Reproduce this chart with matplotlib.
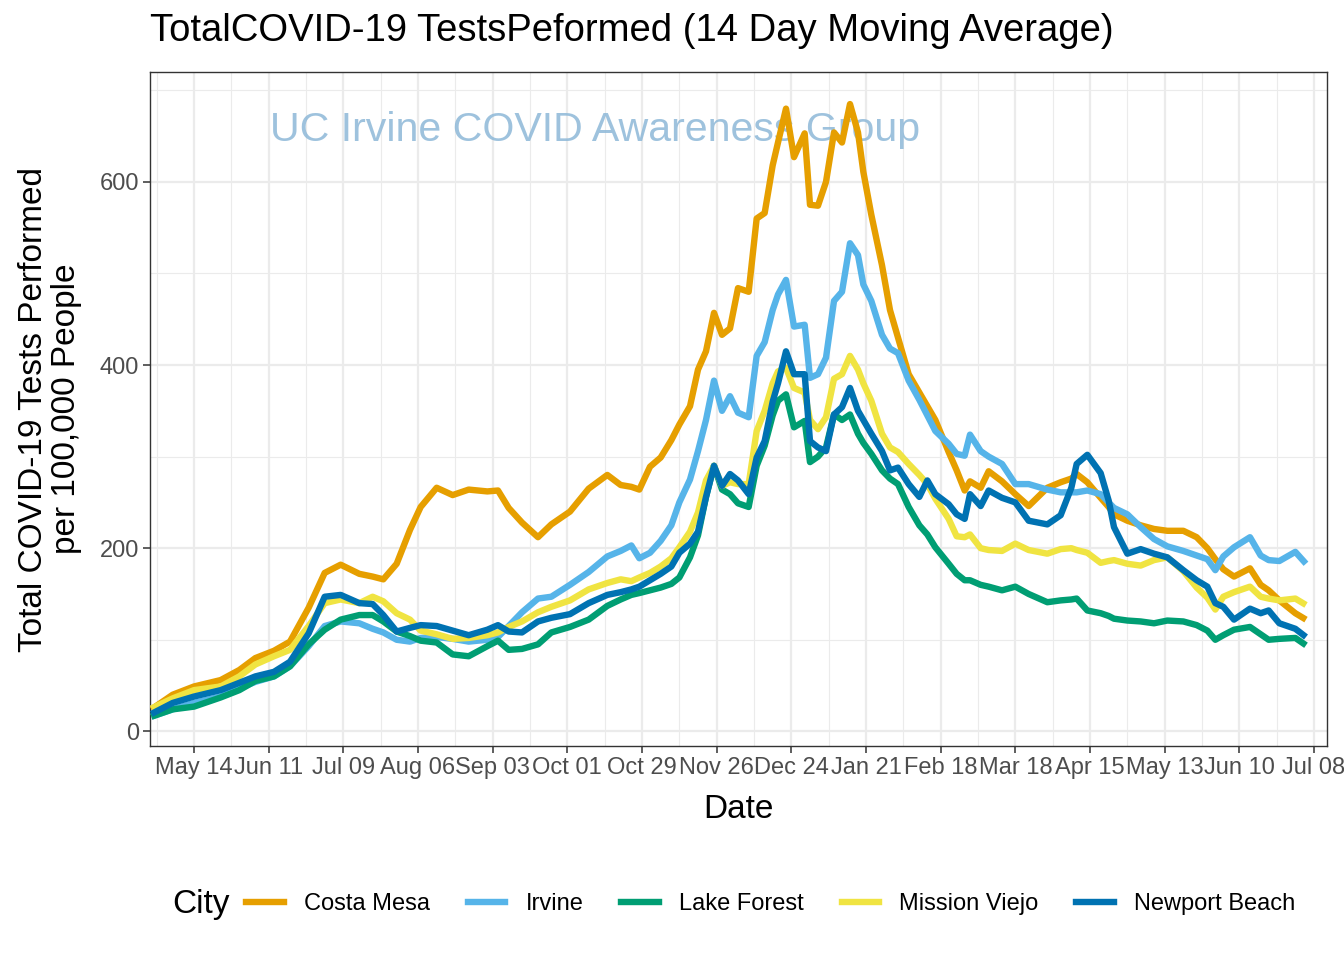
import pandas as pd
import matplotlib.pyplot as plt
import matplotlib.dates as mdates
from matplotlib.lines import Line2D

plt.rcParams["font.family"] = ["Liberation Sans", "DejaVu Sans"]

# Dates (14 day moving average values)
dates = pd.to_datetime([
    "2020-04-28", "2020-05-06", "2020-05-14", "2020-05-24", "2020-05-31",
    "2020-06-06", "2020-06-13", "2020-06-19", "2020-06-26", "2020-07-02",
    "2020-07-08", "2020-07-15", "2020-07-20", "2020-07-24", "2020-07-29",
    "2020-08-03", "2020-08-07", "2020-08-13", "2020-08-19", "2020-08-25",
    "2020-09-01", "2020-09-05", "2020-09-09", "2020-09-14", "2020-09-20",
    "2020-09-25", "2020-10-02", "2020-10-09", "2020-10-16", "2020-10-21",
    "2020-10-25", "2020-10-28", "2020-11-01", "2020-11-05", "2020-11-09",
    "2020-11-12", "2020-11-16", "2020-11-19", "2020-11-22", "2020-11-25",
    "2020-11-28", "2020-12-01", "2020-12-04", "2020-12-08", "2020-12-11",
    "2020-12-14", "2020-12-17", "2020-12-19", "2020-12-22", "2020-12-25",
    "2020-12-29", "2020-12-31", "2021-01-03", "2021-01-06", "2021-01-09",
    "2021-01-12", "2021-01-15", "2021-01-18", "2021-01-20", "2021-01-23",
    "2021-01-27", "2021-01-30", "2021-02-02", "2021-02-06", "2021-02-10",
    "2021-02-13", "2021-02-16", "2021-02-21", "2021-02-24", "2021-02-27",
    "2021-03-01", "2021-03-05", "2021-03-08", "2021-03-13", "2021-03-18",
    "2021-03-23", "2021-03-30", "2021-04-04", "2021-04-08", "2021-04-10",
    "2021-04-14", "2021-04-19", "2021-04-22", "2021-04-24", "2021-04-29",
    "2021-05-04", "2021-05-09", "2021-05-14", "2021-05-20", "2021-05-25",
    "2021-05-29", "2021-06-01", "2021-06-04", "2021-06-08", "2021-06-14",
    "2021-06-18", "2021-06-21", "2021-06-25", "2021-07-01", "2021-07-05",
])

costa_mesa = [
    24, 40, 49, 56, 67, 80, 88, 98, 135, 173,
    182, 172, 169, 166, 183, 220, 245, 266, 258, 264,
    262, 263, 244, 228, 212, 226, 240, 265, 280, 269,
    267, 264, 289, 299, 318, 335, 355, 395, 415, 457,
    433, 440, 484, 480, 560, 566, 618, 643, 680, 627,
    653, 575, 574, 600, 654, 643, 685, 654, 611, 564,
    509, 460, 430, 390, 370, 355, 340, 305, 285, 263,
    273, 266, 284, 273, 259, 246, 266, 272, 276, 281,
    272, 255, 245, 237, 230, 225, 221, 219, 219, 212,
    200, 188, 177, 169, 178, 160, 154, 143, 129, 122,
]
irvine = [
    16, 24, 31, 38, 47, 54, 60, 71, 93, 115,
    120, 118, 112, 108, 100, 98, 102, 103, 101, 98,
    100, 103, 115, 130, 145, 147, 160, 174, 191, 197,
    203, 189, 195, 208, 225, 250, 275, 306, 340, 383,
    350, 366, 348, 343, 410, 425, 460, 477, 493, 442,
    444, 386, 390, 408, 470, 480, 533, 520, 488, 470,
    433, 418, 413, 383, 362, 345, 328, 314, 303, 301,
    324, 306, 300, 292, 270, 270, 264, 261, 261, 261,
    263, 259, 250, 244, 237, 223, 210, 202, 197, 192,
    188, 176, 191, 201, 212, 192, 187, 186, 196, 183,
]
lake_forest = [
    16, 24, 27, 37, 45, 55, 60, 71, 95, 111,
    122, 127, 127, 120, 109, 104, 99, 97, 84, 82,
    93, 99, 89, 90, 95, 108, 114, 122, 137, 144,
    149, 151, 154, 157, 161, 168, 190, 214, 256, 290,
    264, 259, 249, 245, 290, 312, 345, 361, 368, 332,
    339, 294, 300, 310, 346, 340, 346, 325, 315, 303,
    285, 276, 270, 245, 225, 215, 201, 183, 172, 165,
    165, 160, 158, 154, 158, 150, 141, 143, 144, 145,
    132, 129, 126, 123, 121, 120, 118, 121, 120, 116,
    110, 100, 105, 111, 114, 106, 100, 101, 102, 94,
]
mission_viejo = [
    25, 36, 45, 49, 60, 73, 82, 89, 115, 140,
    144, 140, 147, 142, 129, 122, 110, 106, 101, 102,
    105, 108, 114, 120, 130, 136, 143, 155, 162, 166,
    164, 168, 173, 180, 189, 201, 218, 239, 274, 290,
    268, 272, 270, 270, 328, 350, 380, 393, 397, 375,
    370, 340, 330, 343, 385, 390, 410, 395, 380, 361,
    325, 310, 305, 292, 280, 270, 254, 232, 213, 212,
    215, 200, 198, 197, 205, 198, 194, 199, 200, 198,
    195, 184, 186, 187, 183, 181, 187, 190, 175, 157,
    146, 133, 147, 152, 158, 147, 145, 143, 145, 138,
]
newport_beach = [
    19, 31, 38, 45, 53, 60, 65, 76, 107, 147,
    149, 140, 139, 127, 109, 113, 116, 115, 110, 105,
    111, 116, 109, 108, 120, 124, 128, 140, 149, 152,
    155, 158, 165, 172, 180, 195, 205, 218, 256, 290,
    268, 281, 274, 259, 299, 317, 360, 380, 415, 390,
    390, 317, 310, 306, 346, 354, 375, 350, 340, 325,
    306, 285, 288, 270, 256, 274, 259, 248, 237, 232,
    259, 246, 263, 255, 250, 230, 226, 236, 266, 292,
    302, 282, 252, 223, 194, 199, 194, 190, 176, 165,
    158, 140, 136, 122, 134, 129, 132, 118, 112, 103,
]

cities = ["Costa Mesa", "Irvine", "Lake Forest", "Mission Viejo", "Newport Beach"]
series = [costa_mesa, irvine, lake_forest, mission_viejo, newport_beach]
colours = ["#E69F00", "#56B4E9", "#009E73", "#F0E442", "#0072B2"]

W, H = 1344, 960
fig = plt.figure(figsize=(W / 100, H / 100), dpi=100)
ax = fig.add_axes([150 / W, 1 - 746 / H, (1327 - 150) / W, (746 - 72) / H])

for city, vals, col in zip(cities, series, colours):
    ax.plot(dates, vals, color=col, lw=4.6, solid_joinstyle="round",
            solid_capstyle="butt", label=city, zorder=3)

# axes limits and breaks
ax.set_xlim(pd.Timestamp("2020-04-27 12:00"), pd.Timestamp("2021-07-12 21:00"))
ax.set_ylim(-16, 720)
major_x = pd.date_range("2020-05-14", "2021-07-08", freq="28D")
minor_x = pd.date_range("2020-04-30", "2021-06-24", freq="28D")
ax.set_xticks(major_x)
ax.set_xticks(minor_x, minor=True)
ax.xaxis.set_major_formatter(mdates.DateFormatter("%b %d"))
ax.set_yticks([0, 200, 400, 600])
ax.set_yticks([100, 300, 500, 700], minor=True)

ax.grid(True, which="major", color="#EBEBEB", lw=1.6, zorder=0)
ax.grid(True, which="minor", color="#EBEBEB", lw=0.8, zorder=0)
ax.set_axisbelow(True)
for sp in ax.spines.values():
    sp.set_color("#333333")
    sp.set_linewidth(1.0)
ax.tick_params(which="major", length=5, width=1.1, color="#333333",
               labelsize=17, labelcolor="#4D4D4D", pad=3)
ax.tick_params(which="minor", length=0)

# watermark
ax.text(pd.Timestamp("2020-06-11 12:00"), 657, "UC Irvine COVID Awareness Group",
        fontsize=29.6, color="#8DB8D8", alpha=0.85, ha="left", va="center", zorder=2)

# titles
fig.text(150 / W, 1 - 13 / H, "TotalCOVID-19 TestsPeformed (14 Day Moving Average)",
         fontsize=27.5, ha="left", va="top")
fig.text(738 / W, 1 - 810 / H, "Date", fontsize=24, ha="center", va="center")
fig.text(50 / W, 1 - 409 / H, "Total COVID-19 Tests Performed\nper 100,000 People",
         fontsize=24, rotation=90, ha="center", va="center", multialignment="center",
         linespacing=1.05)

# legend at the bottom
fig.text(172 / W, 1 - 904 / H, "City", fontsize=24, ha="left", va="center")
handles = [Line2D([0], [0], color=c, lw=4.6) for c in colours]
fig.legend(handles, cities, ncol=5, loc="center left",
           bbox_to_anchor=(246 / W, 1 - 904 / H), frameon=False, fontsize=17,
           handlelength=1.6, handletextpad=0.85, columnspacing=1.6,
           borderpad=0, borderaxespad=0)

fig.savefig("out.png", dpi=100)
